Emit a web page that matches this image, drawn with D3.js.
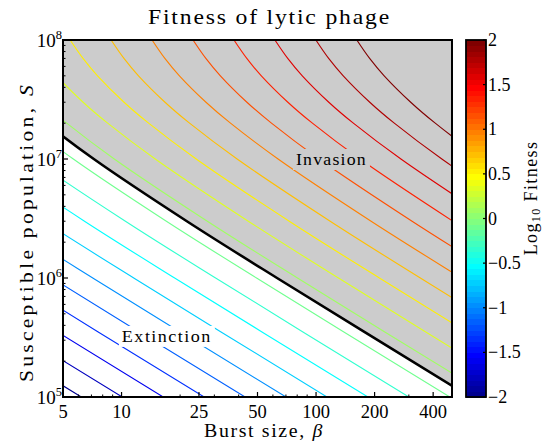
<!DOCTYPE html>
<html><head><meta charset="utf-8">
<script src="https://cdn.jsdelivr.net/npm/d3@7"></script>
<style>
body{margin:0;background:#fff}
svg{display:block}
text{font-family:"Liberation Serif","Times New Roman",serif;fill:#000}
</style>
</head><body>
<svg id="c" width="544" height="443"></svg>
<script>
// ---------------- data ----------------
const sValues = [1e5, 1e6, 3e6, 1e7, 2e7, 3e7, 5e7, 7e7, 1e8];
// contour levels of log10 fitness
const contourLevels = [-2, -1.789, -1.579, -1.368, -1.158, -0.947, -0.737, -0.526, -0.316, -0.105,
                       0.105, 0.316, 0.526, 0.737, 0.947, 1.158, 1.368, 1.579, 1.789, 2];
// burst size at which each contour crosses each S value
const contourBeta = [
  [6.21, 0.63, 0.217, 0.072, 0.041, 0.0307, 0.0224, 0.0189, 0.0162],
  [10.08, 1.023, 0.352, 0.117, 0.0666, 0.0498, 0.0364, 0.0306, 0.0263],
  [16.37, 1.661, 0.571, 0.190, 0.108, 0.0809, 0.0591, 0.0497, 0.0427],
  [26.59, 2.697, 0.928, 0.308, 0.176, 0.131, 0.0959, 0.0807, 0.0694],
  [43.17, 4.380, 1.506, 0.501, 0.285, 0.213, 0.156, 0.131, 0.113],
  [70.10, 7.112, 2.446, 0.813, 0.463, 0.346, 0.253, 0.213, 0.183],
  [113.8, 11.55, 3.972, 1.320, 0.752, 0.562, 0.411, 0.346, 0.297],
  [184.8, 18.75, 6.449, 2.143, 1.220, 0.913, 0.667, 0.561, 0.482],
  [300.1, 30.45, 10.47, 3.480, 1.982, 1.482, 1.083, 0.911, 0.783],
  [487.3, 49.44, 17.00, 5.650, 3.218, 2.407, 1.758, 1.480, 1.271],
  [791.3, 80.28, 27.61, 9.175, 5.224, 3.908, 2.854, 2.403, 2.064],
  [1285, 130.4, 44.83, 14.90, 8.483, 6.345, 4.635, 3.902, 3.352],
  [2086, 211.7, 72.80, 24.19, 13.78, 10.30, 7.526, 6.336, 5.443],
  [3388, 343.7, 118.2, 39.28, 22.37, 16.73, 12.22, 10.29, 8.838],
  [5501, 558.1, 191.9, 63.78, 36.32, 27.17, 19.84, 16.70, 14.35],
  [8933, 906.2, 311.7, 103.6, 58.98, 44.11, 32.22, 27.13, 23.30],
  [14505, 1471, 506.1, 168.2, 95.76, 71.63, 52.32, 44.05, 37.84],
  [23553, 2389, 821.8, 273.1, 155.5, 116.3, 84.96, 71.52, 61.44],
  [38244, 3880, 1334, 443.4, 252.5, 188.9, 138.0, 116.1, 99.77],
  [62100, 6300, 2167, 720, 410, 306.7, 224, 188.6, 162]
];
// fitness = 1 threshold (black line)
const thresholdBeta = [621, 63, 21.67, 7.2, 4.1, 3.067, 2.24, 1.886, 1.62];

const xTicks = [5, 10, 25, 50, 100, 200, 400];
const xMinorTicks = [6, 7, 8, 9, 20, 30, 40, 60, 70, 80, 90, 300];
const yTicks = [1e5, 1e6, 1e7, 1e8];
const yTickExp = ["5", "6", "7", "8"];
const cbTicks = [-2, -1.5, -1, -0.5, 0, 0.5, 1, 1.5, 2];
const cbTickLabels = ["\u22122", "\u22121.5", "\u22121", "\u22120.5", "0", "0.5", "1", "1.5", "2"];
const regionNames = ["Invasion", "Extinction"];
const regionBeta = [120, 17.1];
const regionS = [1e7, 3.26e5];

// ---------------- drawing ----------------
const svg = d3.select("#c");
const X0 = 63, X1 = 452, Y0 = 40, Y1 = 397;
const x = d3.scaleLog().domain([5, 500]).range([X0, X1]);
const y = d3.scaleLog().domain([1e5, 1e8]).range([Y1, Y0]);
const cmin = -2, cmax = 2;

function jet(i) { // MATLAB jet(64), 1-based
  const r = i < 25 ? 0 : i <= 40 ? (i - 24) / 16 : i <= 55 ? 1 : (72 - i) / 16;
  const g = i < 9 ? 0 : i <= 24 ? (i - 8) / 16 : i <= 39 ? 1 : i <= 55 ? (56 - i) / 16 : 0;
  const b = i <= 8 ? (i + 8) / 16 : i <= 23 ? 1 : i <= 39 ? (40 - i) / 16 : 0;
  return d3.rgb(r * 255, g * 255, b * 255).formatHex();
}
function levelColor(v) {
  let idx = Math.floor((v - cmin) / (cmax - cmin) * 64) + 1;
  idx = Math.max(1, Math.min(64, idx));
  return jet(idx);
}
// widen a text to a target length: mostly letter spacing, a little glyph stretch
function fitText(t, target) {
  const node = t.node();
  const nat = node.getComputedTextLength();
  const n = node.textContent.length;
  if (target > nat && n > 1) {
    const ls = (target - nat) * 0.65 / (n - 1);
    t.attr("letter-spacing", ls.toFixed(2));
  }
  t.attr("textLength", target).attr("lengthAdjust", "spacingAndGlyphs");
}

svg.append("defs").append("clipPath").attr("id", "pc")
  .append("rect").attr("x", X0).attr("y", Y0).attr("width", X1 - X0).attr("height", Y1 - Y0);

const g = svg.append("g").attr("clip-path", "url(#pc)");
g.append("rect").attr("x", X0).attr("y", Y0).attr("width", X1 - X0).attr("height", Y1 - Y0).attr("fill", "#fff");

// gray invasion region
const thrPts = thresholdBeta.map((b, j) => [x(b), y(sValues[j])]);
const poly = thrPts.concat([[thrPts[thrPts.length - 1][0], Y0 - 20], [X1 + 200, Y0 - 20], [X1 + 200, thrPts[0][1] + 20], [thrPts[0][0], thrPts[0][1] + 20]]);
g.append("path").attr("d", "M" + poly.map(p => p.join(",")).join("L") + "Z").attr("fill", "#cccccc");

const line = d3.line().x(d => x(d[0])).y(d => y(d[1])).curve(d3.curveCatmullRom.alpha(0.5));

contourLevels.forEach((L, k) => {
  g.append("path")
    .attr("d", line(contourBeta[k].map((b, j) => [b, sValues[j]])))
    .attr("fill", "none").attr("stroke", levelColor(L)).attr("stroke-width", 1.1);
});

g.append("path")
  .attr("d", line(thresholdBeta.map((b, j) => [b, sValues[j]])))
  .attr("fill", "none").attr("stroke", "#000").attr("stroke-width", 2.6);

// region labels with background boxes
const labelW = [71, 90];
regionNames.forEach((name, i) => {
  const cx = x(regionBeta[i]), cy = y(regionS[i]);
  const bg = i === 0 ? "#cccccc" : "#ffffff";
  const grp = svg.append("g");
  const r = grp.append("rect");
  const t = grp.append("text").attr("x", cx).attr("y", cy + 6).attr("text-anchor", "middle")
    .attr("font-size", 17).text(name);
  fitText(t, labelW[i]);
  const bb = t.node().getBBox();
  r.attr("x", bb.x - 3).attr("y", bb.y - 1).attr("width", bb.width + 6).attr("height", bb.height + 2).attr("fill", bg);
});

// axes box
svg.append("rect").attr("x", X0).attr("y", Y0).attr("width", X1 - X0).attr("height", Y1 - Y0)
  .attr("fill", "none").attr("stroke", "#000").attr("stroke-width", 2);

// x ticks
xTicks.forEach(t => {
  svg.append("line").attr("x1", x(t)).attr("x2", x(t)).attr("y1", Y1).attr("y2", Y1 - 5).attr("stroke", "#000").attr("stroke-width", 1.2);
  svg.append("text").attr("x", x(t)).attr("y", 418).attr("text-anchor", "middle").attr("font-size", 18.5).text(t);
});
xMinorTicks.forEach(t => {
  svg.append("line").attr("x1", x(t)).attr("x2", x(t)).attr("y1", Y1).attr("y2", Y1 - 2.5).attr("stroke", "#000").attr("stroke-width", 1);
});
// y ticks
yTicks.forEach((t, i) => {
  svg.append("line").attr("x1", X0).attr("x2", X0 + 5).attr("y1", y(t)).attr("y2", y(t)).attr("stroke", "#000").attr("stroke-width", 1.2);
  const tx = svg.append("text").attr("x", 62).attr("y", y(t) + 6.5).attr("text-anchor", "end").attr("font-size", 19);
  tx.append("tspan").text("10");
  tx.append("tspan").attr("dy", -8).attr("font-size", 12.5).text(yTickExp[i]);
});
for (let d = 1e5; d < 1e8; d *= 10) {
  for (let m = 2; m <= 9; m++) {
    const v = d * m;
    svg.append("line").attr("x1", X0).attr("x2", X0 + 2.5).attr("y1", y(v)).attr("y2", y(v)).attr("stroke", "#000").attr("stroke-width", 1);
  }
}

// titles
const title = svg.append("text").attr("x", 269.5).attr("y", 24).attr("text-anchor", "middle").attr("font-size", 22)
  .text("Fitness of lytic phage");
fitText(title, 243);
const xl = svg.append("text").attr("x", 264).attr("y", 437).attr("text-anchor", "middle").attr("font-size", 18.5);
xl.append("tspan").text("Burst size, ");
xl.append("tspan").attr("font-style", "italic").text("\u03B2");
fitText(xl, 120);
const yl = svg.append("text").attr("transform", "translate(33,232) rotate(-90)").attr("text-anchor", "middle").attr("font-size", 19);
yl.append("tspan").text("Susceptible population, ");
yl.append("tspan").attr("font-style", "italic").text("S");
fitText(yl, 300);

// colorbar
const CB0 = 466, CB1 = 486;
const cy = d3.scaleLinear().domain([cmin, cmax]).range([Y1, Y0]);
const cb = svg.append("g");
for (let i = 1; i <= 64; i++) {
  const v0 = cmin + (i - 1) * (cmax - cmin) / 64, v1 = cmin + i * (cmax - cmin) / 64;
  cb.append("rect").attr("x", CB0).attr("width", CB1 - CB0).attr("y", cy(v1)).attr("height", cy(v0) - cy(v1) + 0.5)
    .attr("fill", jet(i)).attr("shape-rendering", "crispEdges");
}
cb.append("rect").attr("x", CB0).attr("y", Y0).attr("width", CB1 - CB0).attr("height", Y1 - Y0)
  .attr("fill", "none").attr("stroke", "#000").attr("stroke-width", 1.8);
cbTicks.forEach((t, i) => {
  cb.append("line").attr("x1", CB1).attr("x2", CB1 - 3).attr("y1", cy(t)).attr("y2", cy(t)).attr("stroke", "#000").attr("stroke-width", 1.2);
  cb.append("text").attr("x", 488).attr("y", cy(t) + 6).attr("font-size", 18).text(cbTickLabels[i]);
});
const cl = svg.append("text").attr("transform", "translate(537,198) rotate(-90)").attr("text-anchor", "middle")
  .attr("font-size", 18).attr("letter-spacing", 1.4);
cl.append("tspan").text("Log");
cl.append("tspan").attr("font-size", 12).attr("dy", 3).text("10");
cl.append("tspan").attr("dy", -3).text(" Fitness");
</script>
</body></html>
